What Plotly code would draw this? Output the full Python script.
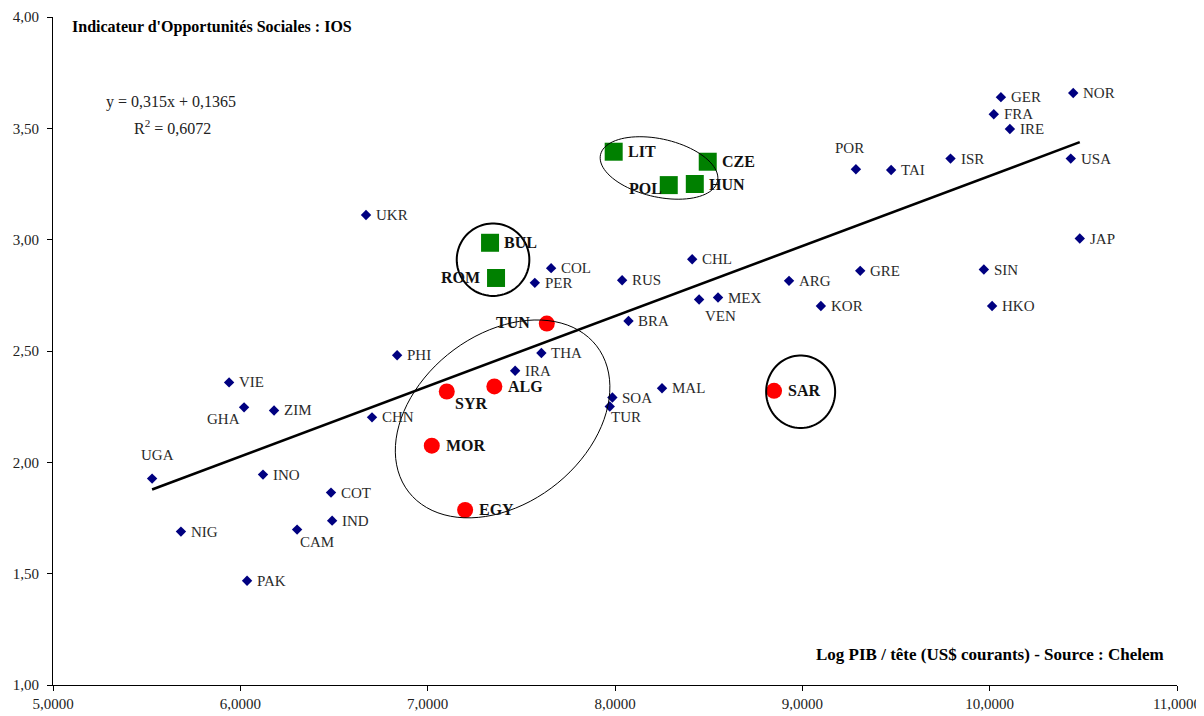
import math
import plotly.graph_objects as go

# ---- Data ----
# Other countries (navy diamonds)
other_names = ["UGA", "NIG", "GHA", "VIE", "ZIM", "INO", "PAK", "CAM", "COT", "IND",
               "CHN", "PHI", "UKR", "PER", "COL", "RUS", "CHL", "VEN", "MEX", "BRA",
               "THA", "IRA", "SOA", "TUR", "MAL", "KOR", "ARG", "GRE", "SIN", "HKO",
               "JAP", "USA", "NOR", "GER", "FRA", "IRE", "ISR", "TAI", "POR"]
other_x = [5.529, 5.683, 6.020, 5.940, 6.180, 6.121, 6.036, 6.303, 6.484, 6.490,
           6.703, 6.837, 6.671, 7.572, 7.659, 8.038, 8.412, 8.449, 8.550, 8.072,
           7.607, 7.467, 7.986, 7.972, 8.251, 9.099, 8.929, 9.309, 9.969, 10.013,
           10.481, 10.433, 10.446, 10.060, 10.022, 10.108, 9.791, 9.474, 9.286]
other_y = [1.927, 1.689, 2.247, 2.359, 2.233, 1.945, 1.468, 1.698, 1.864, 1.738,
           2.202, 2.481, 3.111, 2.806, 2.872, 2.818, 2.912, 2.731, 2.740, 2.635,
           2.491, 2.411, 2.291, 2.251, 2.333, 2.702, 2.815, 2.860, 2.866, 2.702,
           3.005, 3.364, 3.659, 3.640, 3.563, 3.497, 3.364, 3.313, 3.316]

# Eastern Europe (green squares)
east_names = ["LIT", "CZE", "POL", "HUN", "BUL", "ROM"]
east_x = [7.993, 8.495, 8.287, 8.426, 7.333, 7.365]
east_y = [3.395, 3.350, 3.245, 3.250, 2.986, 2.828]

# MENA (red circles)
mena_names = ["TUN", "ALG", "SYR", "MOR", "EGY", "SAR"]
mena_x = [7.636, 7.356, 7.102, 7.022, 7.200, 8.849]
mena_y = [2.623, 2.341, 2.318, 2.075, 1.786, 2.321]

# Trend line coefficients (as printed on chart)
slope = 0.315
intercept = 0.1365

FONT = "Liberation Serif"

# ---- Label placement: (xanchor, yanchor, xshift, yshift) ----
default_small = ("left", "middle", 8, 0)
default_big = ("left", "middle", 12, 0)
special_pos = {
    "UGA": ("center", "middle", 5, 24),
    "GHA": ("right", "middle", -2, -12),
    "CAM": ("left", "middle", 1, -12),
    "TUR": ("left", "middle", -1, -11),
    "VEN": ("left", "middle", 4, -16),
    "POR": ("center", "middle", -6, 21),
    "POL": ("right", "middle", -5, -3),
    "ROM": ("right", "middle", -14, 0),
    "TUN": ("right", "middle", -15, 1),
    "SYR": ("left", "middle", 6, -12),
}

fig = go.Figure()

all_x = other_x + east_x + mena_x
x_line = [min(all_x), max(all_x)]
y_line = [slope * v + intercept for v in x_line]
fig.add_trace(go.Scatter(x=x_line, y=y_line, mode="lines",
                         line=dict(color="black", width=2.6), hoverinfo="skip"))

fig.add_trace(go.Scatter(x=other_x, y=other_y, mode="markers",
                         marker=dict(symbol="diamond", size=8, color="#000080")))
fig.add_trace(go.Scatter(x=east_x, y=east_y, mode="markers",
                         marker=dict(symbol="square", size=18, color="#008000")))
fig.add_trace(go.Scatter(x=mena_x, y=mena_y, mode="markers",
                         marker=dict(symbol="circle", size=16, color="#FF0000")))

annotations = []


def add_labels(names, xs, ys, bold, default):
    for n, x, y in zip(names, xs, ys):
        xa, ya, dx, dy = special_pos.get(n, default)
        annotations.append(dict(
            x=x, y=y, xref="x", yref="y", showarrow=False,
            text=("<b>%s</b>" % n) if bold else n,
            xanchor=xa, yanchor=ya, xshift=dx, yshift=dy,
            font=dict(family=FONT, size=16 if bold else 15,
                      color="#111111" if bold else "#2a2a2a")))


add_labels(other_names, other_x, other_y, False, default_small)
add_labels(east_names, east_x, east_y, True, default_big)
add_labels(mena_names, mena_x, mena_y, True, default_big)

# ---- Figure geometry (page body has an 8px margin) ----
W, H = 1196, 708
ML, MR, MT, MB = 45, 27, 9, 31
SX = (W - ML - MR) / 6.0   # px per x unit
SY = (H - MT - MB) / 3.0   # px per y unit


def ellipse_path(cx, cy, a_px, b_px, ang_deg, n=90):
    th = math.radians(ang_deg)
    pts = []
    for i in range(n + 1):
        t = 2 * math.pi * i / n
        dx = a_px * math.cos(t) * math.cos(th) - b_px * math.sin(t) * math.sin(th)
        dy = a_px * math.cos(t) * math.sin(th) + b_px * math.sin(t) * math.cos(th)
        pts.append((cx + dx / SX, cy - dy / SY))
    return "M " + " L ".join("%.5f,%.5f" % p for p in pts) + " Z"


shapes = [
    dict(type="path", path=ellipse_path(8.235, 3.322, 60, 29, 12.8),
         xref="x", yref="y", line=dict(color="black", width=1)),
    dict(type="path", path=ellipse_path(7.400, 2.195, 119, 84.5, -37.9),
         xref="x", yref="y", line=dict(color="black", width=1)),
    dict(type="path", path=ellipse_path(7.349, 2.910, 36.3, 36.2, 0),
         xref="x", yref="y", line=dict(color="black", width=2)),
    dict(type="path", path=ellipse_path(8.991, 2.317, 34.5, 36.3, 0),
         xref="x", yref="y", line=dict(color="black", width=2)),
]

annotations += [
    dict(text="<b>Indicateur d'Opportunités Sociales : IOS</b>", xref="paper", yref="paper",
         x=0.015, y=0.985, xanchor="left", yanchor="middle", showarrow=False,
         font=dict(family=FONT, size=16, color="black")),
    dict(text="y = 0,315x + 0,1365", xref="paper", yref="paper",
         x=0.105, y=0.873, xanchor="center", yanchor="middle", showarrow=False,
         font=dict(family=FONT, size=16, color="#222")),
    dict(text="R<sup>2</sup> = 0,6072", xref="paper", yref="paper",
         x=0.106, y=0.836, xanchor="center", yanchor="middle", showarrow=False,
         font=dict(family=FONT, size=16, color="#222")),
    dict(text="<b>Log PIB / tête (US$ courants) - Source : Chelem</b>", xref="paper", yref="paper",
         x=0.990, y=0.045, xanchor="right", yanchor="middle", showarrow=False,
         font=dict(family=FONT, size=17, color="black")),
]

axis_common = dict(ticks="outside", ticklen=5, tickcolor="black", showline=True,
                   linecolor="black", linewidth=1, showgrid=False, zeroline=False,
                   automargin=False,
                   tickfont=dict(family=FONT, size=15, color="#222"))

fig.update_layout(
    template="none",
    width=W, height=H, autosize=False,
    margin=dict(l=ML, r=MR, t=MT, b=MB, pad=0),
    plot_bgcolor="white", paper_bgcolor="white",
    showlegend=False, separators=", ",
    font=dict(family=FONT, size=15, color="#222"),
    shapes=shapes, annotations=annotations,
    xaxis=dict(range=[5, 11], dtick=1, tick0=5, tickformat=".4f", **axis_common),
    yaxis=dict(range=[1, 4], dtick=0.5, tick0=1, tickformat=".2f",
               ticklabelstandoff=5, **axis_common),
)

fig.write_html("out.html")
